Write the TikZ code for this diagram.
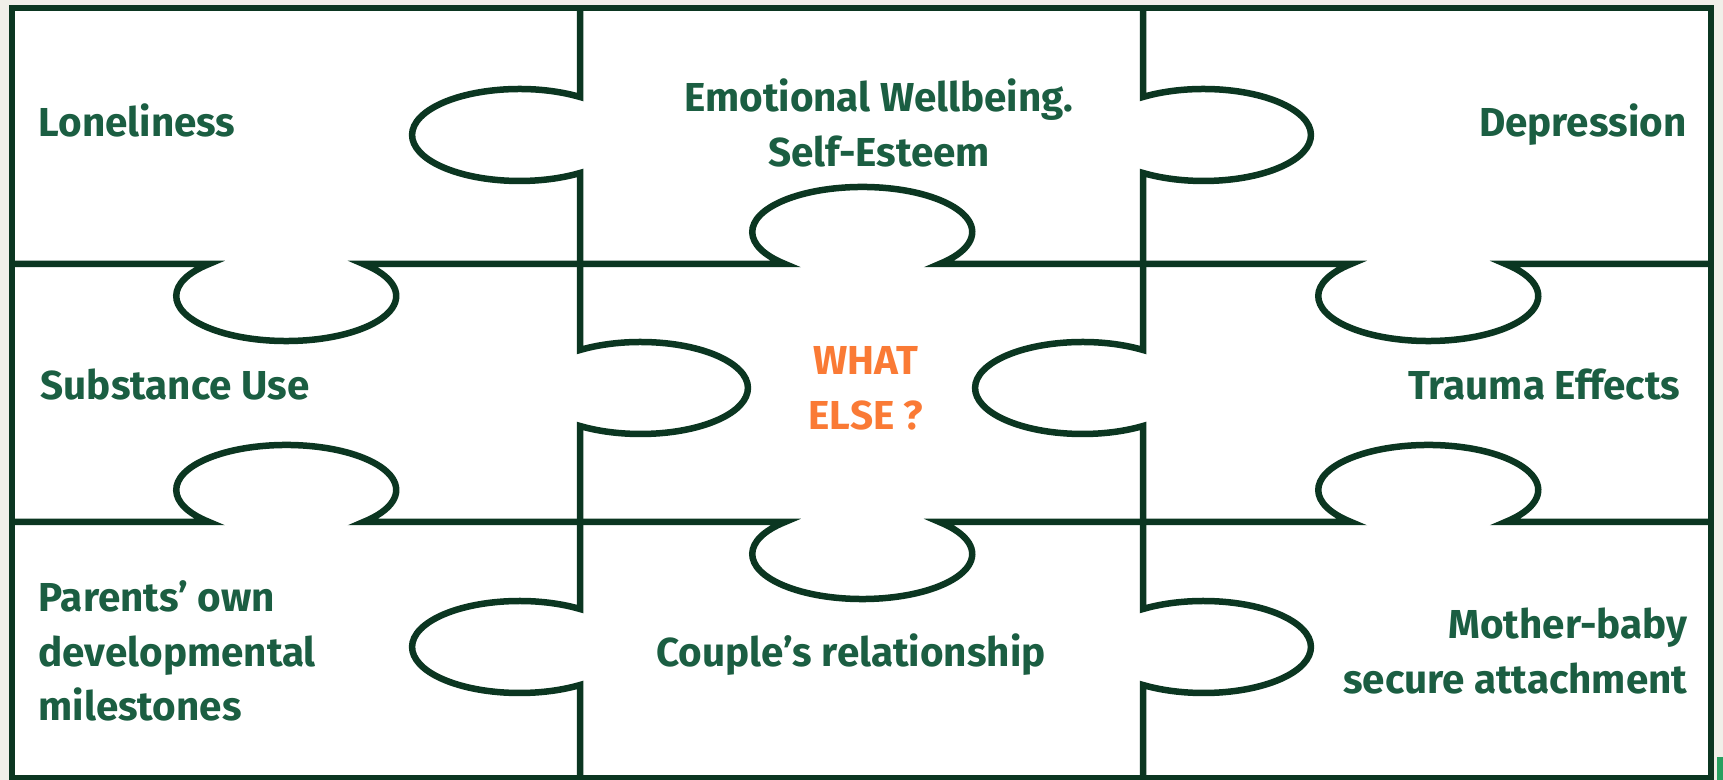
\documentclass[tikz,border=0pt]{standalone}
\usepackage{fontspec}
\setmainfont{Fira Sans}
\definecolor{piecegreen}{HTML}{0B3621}
\definecolor{labelgreen}{HTML}{1B5E42}
\definecolor{askorange}{HTML}{FA7A35}
\definecolor{pagebeige}{HTML}{F0EFE9}
\definecolor{markgreen}{HTML}{27A060}

\begin{document}
\begin{tikzpicture}[x=0.1mm, y=-0.1mm,
    cut/.style={line width=0.65mm, draw=piecegreen},
    lbl/.style={font=\fontsize{11.5}{15.6}\selectfont\bfseries, text=labelgreen, inner sep=0pt},
    ask/.style={lbl, text=askorange}]
                \fill[pagebeige] (0,0) rectangle (1723,780);
                \useasboundingbox (0,0) rectangle (1723,780);
                \fill[white] (12,8) rectangle (1711,778);
                \fill[markgreen] (1717,757) rectangle (1723,780);
                \draw[cut] (12,264) -- (209,264) arc (225.4:-45.4:110 and 45) -- (785,264) arc (134.6:405.4:110 and 45)
                    -- (1351,264) arc (225.4:-45.4:110 and 45) -- (1711,264);
                \draw[cut] (12,522) -- (209,522) arc (134.6:405.4:110 and 45) -- (785,522) arc (225.4:-45.4:110 and 45)
                    -- (1351,522) arc (134.6:405.4:110 and 45) -- (1711,522);
                \draw[cut] (580,8) -- (580,97) arc (-55.7:-304.3:107.4 and 46) -- (580,350) arc (235.7:484.3:107.4 and 46)
                    -- (580,609) arc (-55.7:-304.3:107.4 and 46) -- (580,778);
                \draw[cut] (1143,8) -- (1143,97) arc (235.7:484.3:107.4 and 46) -- (1143,350) arc (-55.7:-304.3:107.4 and 46)
                    -- (1143,609) arc (235.7:484.3:107.4 and 46) -- (1143,778);
                \draw[cut] (12,8) rectangle (1711,778);
                \node[lbl, anchor=base west] (lonely) at (38,137) {Loneliness};
                \node[lbl, align=center] (wellbeing) at (879,123) {Emotional Wellbeing.\\Self-Esteem};
                \node[lbl, anchor=base east] (depress) at (1687,137) {Depression};
                \node[lbl, anchor=base west] (substance) at (40,400) {Substance Use};
                \node[ask, align=center] (whatelse) at (866,388) {WHAT\\ELSE ?};
                \node[lbl, anchor=base east] (trauma) at (1681,400) {Trauma Effects};
                \node[lbl, align=left, anchor=west] (milestones) at (38,651) {Parents’ own\\developmental\\milestones};
                \node[lbl, anchor=base] (couple) at (851,667) {Couple’s relationship};
                \node[lbl, align=right, anchor=east] (attach) at (1688,651) {Mother-baby\\secure attachment};
            \end{tikzpicture}
\end{document}
